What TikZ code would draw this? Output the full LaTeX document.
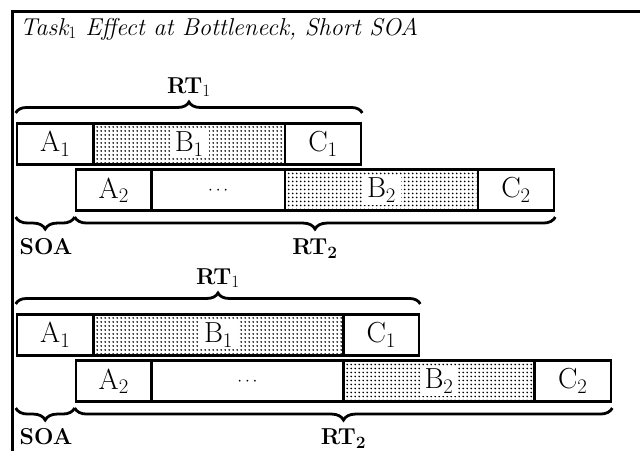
\documentclass[tikz,border=0pt]{standalone}
\usetikzlibrary{decorations.pathreplacing}
\newcommand\tsboxfont{\fontsize{29}{34}\selectfont}
\newcommand\tsdotsfont{\fontsize{18}{22}\selectfont}
\newcommand\tslabfont{\fontsize{23}{27}\selectfont\bfseries}
\newcommand\tstitlefont{\fontsize{24.4}{30}\selectfont\itshape}
% stipple the inside of a box node with a grid of small dots
\newcommand\tsstipple[2]{%
  \begin{scope}
    \clip ([xshift=3pt,yshift=-3pt]#1.north west) rectangle ([xshift=-3pt,yshift=3pt]#1.south east);
    \foreach \i in {0,...,#2} \foreach \j in {0,...,9}
      \fill ([xshift=\i*4pt+5pt,yshift=-\j*4pt-5pt]#1.north west) circle[radius=0.95pt];
  \end{scope}}
\begin{document}
\begin{tikzpicture}[x=1pt,y=-1pt,
  box/.style={draw,rectangle,line width=2.6pt,inner sep=0pt,
    minimum height=41pt,font=\tsboxfont},
  blabel/.style={fill=white,inner xsep=5pt,inner ysep=2pt,font=\tsboxfont},
  brc/.style={line width=2.8pt,decorate},
  lab/.style={anchor=base,inner sep=0pt,font=\tslabfont}]
\useasboundingbox (0,0) rectangle (640,451);

% frame and title
\draw[line width=3pt] (12.5,451) -- (12.5,11) -- (640,11);
\node[anchor=base west,inner sep=0pt,font=\tstitlefont] (title) at (20,35)
  {Task$_1$ Effect at Bottleneck, Short SOA};

% ---------- first schedule ----------
\node[box,minimum width=76.5pt] (a1) at (55.25,143.75) {A$_1$};
\node[box,minimum width=191.5pt] (b1) at (189.25,143.75) {};
\node[box,minimum width=76pt] (c1) at (323,143.75) {C$_1$};
\node[box,minimum width=75.5pt] (a2) at (113.75,190.25) {A$_2$};
\node[box,minimum width=133.5pt,font=\tsdotsfont] (d2) at (218.25,190.25) {$\cdots$};
\node[box,minimum width=193pt] (b2) at (381.5,190.25) {};
\node[box,minimum width=76pt] (c2) at (516,190.25) {C$_2$};

\tsstipple{b1}{47}
\tsstipple{b2}{47}
\node[blabel] (b1t) at (b1) {B$_1$};
\node[blabel] (b2t) at (b2) {B$_2$};

\draw[brc,decoration={brace,amplitude=11pt,raise=9pt}] (a1.north west) -- (c1.north east);
\coordinate (s0) at (a1.west |- a2.south);
\draw[brc,decoration={brace,amplitude=12pt,raise=5pt}] (a2.south west) -- (s0);
\draw[brc,decoration={brace,amplitude=12pt,raise=5pt}] (c2.south east) -- (a2.south west);

\node[lab] (rt1) at (189,93) {RT$_1$};
\node[lab] (soa) at (46,254.5) {SOA};
\node[lab] (rt2) at (315,254.5) {RT$_{\mathbf{2}}$};

% ---------- second schedule ----------
\node[box,minimum width=76.5pt] (a1x) at (55.25,334.75) {A$_1$};
\node[box,minimum width=250pt] (b1x) at (218.5,334.75) {};
\node[box,minimum width=75.5pt] (c1x) at (381.25,334.75) {C$_1$};
\node[box,minimum width=75.5pt] (a2x) at (113.75,381.25) {A$_2$};
\node[box,minimum width=192pt,font=\tsdotsfont] (d2x) at (247.5,381.25) {$\cdots$};
\node[box,minimum width=191pt] (b2x) at (439,381.25) {};
\node[box,minimum width=76.5pt] (c2x) at (572.75,381.25) {C$_2$};

\tsstipple{b1x}{61}
\tsstipple{b2x}{47}
\node[blabel] (b1xt) at (b1x) {B$_1$};
\node[blabel] (b2xt) at (b2x) {B$_2$};

\draw[brc,decoration={brace,amplitude=11pt,raise=9pt}] (a1x.north west) -- (c1x.north east);
\coordinate (s0x) at (a1x.west |- a2x.south);
\draw[brc,decoration={brace,amplitude=12pt,raise=5pt}] (a2x.south west) -- (s0x);
\draw[brc,decoration={brace,amplitude=12pt,raise=5pt}] (c2x.south east) -- (a2x.south west);

\node[lab] (rt1x) at (218,284) {RT$_1$};
\node[lab] (soax) at (46,444.5) {SOA};
\node[lab] (rt2x) at (343.5,444.5) {RT$_{\mathbf{2}}$};
\end{tikzpicture}
\end{document}
